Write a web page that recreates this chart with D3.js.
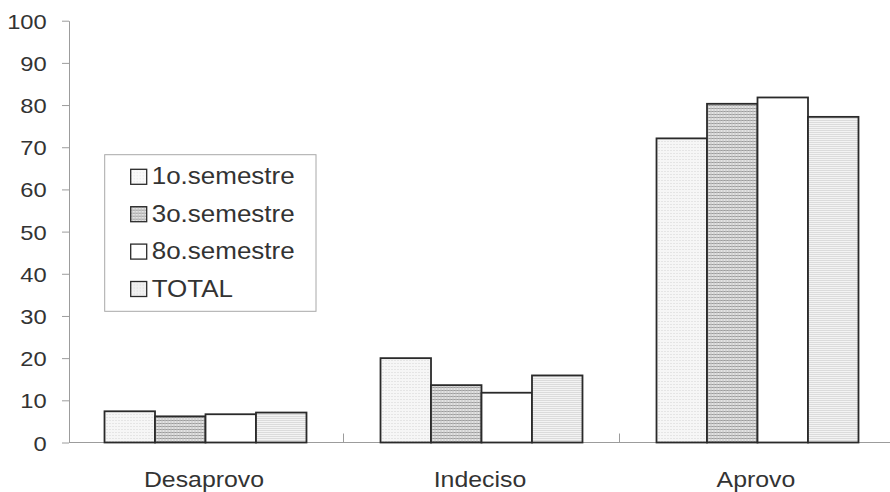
<!DOCTYPE html>
<html>
<head>
<meta charset="utf-8">
<script src="https://cdn.jsdelivr.net/npm/d3@7"></script>
<style>
  html, body { margin: 0; padding: 0; background: #fff; }
  svg { display: block; font-family: "Liberation Sans", Arial, sans-serif; }
</style>
</head>
<body>
<svg id="chart" width="890" height="492"></svg>
<script>
// Opinion by course semester (percent)
const categories = ["Desaprovo", "Indeciso", "Aprovo"];
const seriesNames = ["1o.semestre", "3o.semestre", "8o.semestre", "TOTAL"];
const sem1  = [7.4, 20.0, 72.1];
const sem3  = [6.2, 13.6, 80.3];
const sem8  = [6.7, 11.8, 81.8];
const total = [7.1, 15.9, 77.2];
const seriesValues = [sem1, sem3, sem8, total];
const yTicks = [0, 10, 20, 30, 40, 50, 60, 70, 80, 90, 100];

const svg = d3.select("#chart");
const defs = svg.append("defs");

// Fine print-style fills
function dotPattern(id, bg, dot, size) {
  const p = defs.append("pattern").attr("id", id)
    .attr("patternUnits", "userSpaceOnUse").attr("width", size).attr("height", size);
  p.append("rect").attr("width", size).attr("height", size).attr("fill", bg);
  p.append("rect").attr("width", 1).attr("height", 1).attr("fill", dot);
  return "url(#" + id + ")";
}
function gridPattern(id) {
  const p = defs.append("pattern").attr("id", id)
    .attr("patternUnits", "userSpaceOnUse").attr("width", 3).attr("height", 3);
  p.append("rect").attr("width", 3).attr("height", 3).attr("fill", "#e4e4e4");
  p.append("rect").attr("width", 3).attr("height", 1).attr("fill", "#9a9a9a");
  p.append("rect").attr("x", 1).attr("width", 1).attr("height", 3).attr("fill", "#c4c4c4");
  return "url(#" + id + ")";
}
const fills = [
  dotPattern("stip1", "#f6f6f6", "#d4d4d4", 3),
  gridPattern("grid3"),
  "#ffffff",
  dotPattern("stip4", "#f3f3f3", "#c2c2c2", 2)
];
const legendFills = [
  dotPattern("lstip1", "#f9f9f9", "#e2e2e2", 3),
  gridPattern("lgrid3"),
  "#ffffff",
  dotPattern("lstip4", "#f1f1f1", "#d6d6d6", 3)
];

const stretch = 1.13;
const axisColor = "#9c9c9c";
const textColor = "#333";

const y = d3.scaleLinear().domain([0, 100]).range([442.5, 20.7]);
const x0 = d3.scaleBand().domain(categories).range([67.5, 895.5]).padding(0);
const x1 = d3.scaleBand().domain(seriesNames).range([0, x0.bandwidth()])
  .paddingInner(0).paddingOuter(0.733);

// Value axis
const yAxis = svg.append("g")
  .attr("transform", "translate(69,0)")
  .call(d3.axisLeft(y).tickValues(yTicks).tickSize(7).tickSizeOuter(0));
yAxis.select(".domain").attr("stroke", axisColor);
yAxis.selectAll(".tick line").attr("stroke", axisColor);
yAxis.selectAll(".tick text")
  .attr("x", -22.3 / stretch)
  .attr("dy", "0.36em")
  .attr("transform", `scale(${stretch},1)`)
  .attr("fill", textColor)
  .style("font-size", "21px")
  .style("font-family", "'Liberation Sans', Arial, sans-serif");

// Category axis line with boundary ticks
const xAxisG = svg.append("g");
xAxisG.append("line")
  .attr("x1", 69).attr("x2", 890)
  .attr("y1", y(0)).attr("y2", y(0))
  .attr("stroke", axisColor);
xAxisG.selectAll("line.bound")
  .data(categories.slice(1))
  .join("line")
  .attr("class", "bound")
  .attr("x1", d => x0(d)).attr("x2", d => x0(d))
  .attr("y1", y(0)).attr("y2", y(0) - 9)
  .attr("stroke", axisColor);
xAxisG.selectAll("text")
  .data(categories)
  .join("text")
  .attr("transform", d => `translate(${x0(d) + x0.bandwidth() / 2 - 1.5},487) scale(${stretch},1)`)
  .attr("text-anchor", "middle")
  .attr("fill", textColor)
  .style("font-size", "22px")
  .text(d => d);

// Bars
const groups = svg.append("g").selectAll("g")
  .data(categories)
  .join("g")
  .attr("transform", d => `translate(${x0(d)},0)`);
groups.selectAll("rect")
  .data((d, ci) => seriesNames.map((s, si) => ({ s, si, v: seriesValues[si][ci] })))
  .join("rect")
  .attr("x", d => x1(d.s))
  .attr("width", x1.bandwidth())
  .attr("y", d => y(d.v))
  .attr("height", d => y(0) - y(d.v))
  .attr("fill", d => fills[d.si])
  .attr("stroke", "#2a2a2a")
  .attr("stroke-width", 1.8);

// Legend
const legend = svg.append("g").attr("transform", "translate(104.7,154.7)");
legend.append("rect")
  .attr("width", 211.3).attr("height", 156.6)
  .attr("fill", "#fff")
  .attr("stroke", "#a8a8a8").attr("stroke-width", 1);
const items = legend.selectAll("g.item")
  .data(seriesNames)
  .join("g")
  .attr("class", "item")
  .attr("transform", (d, i) => `translate(26,${14.6 + i * 37.4})`);
items.append("rect")
  .attr("width", 16).attr("height", 15)
  .attr("fill", (d, i) => legendFills[i])
  .attr("stroke", "#2a2a2a").attr("stroke-width", 1.3);
items.append("text")
  .attr("transform", `translate(21,15) scale(${stretch},1)`)
  .attr("fill", textColor)
  .style("font-size", "23px")
  .text(d => d);
</script>
</body>
</html>
